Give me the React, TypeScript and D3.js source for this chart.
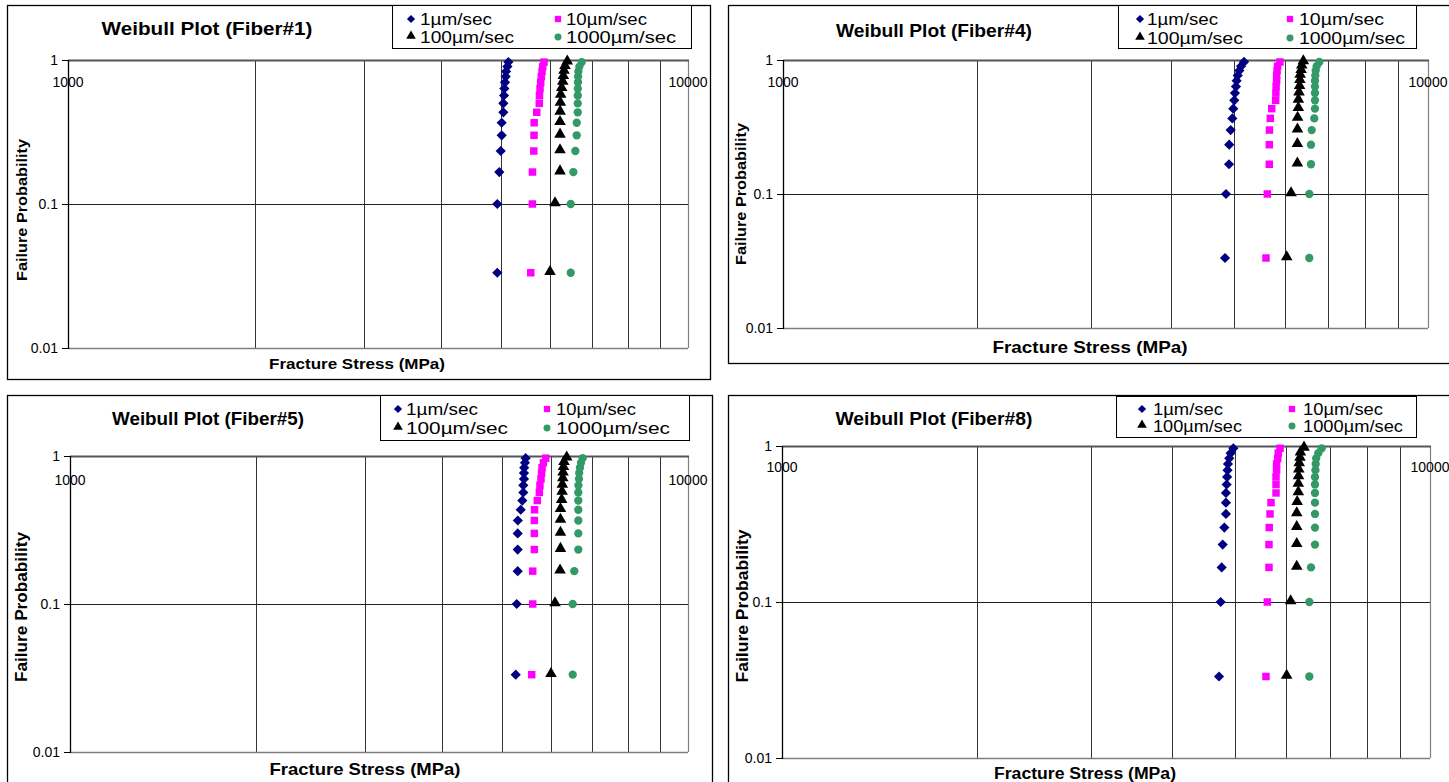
import React from 'react';
import * as d3 from 'd3';

// failure probability (median rank) shared by every series
const failureProb = [0.0333, 0.1, 0.1667, 0.2333, 0.3, 0.3667, 0.4333, 0.5, 0.5667, 0.6333, 0.7, 0.7667, 0.8333, 0.9, 0.9667];

const rateLabels = ['1µm/sec', '10µm/sec', '100µm/sec', '1000µm/sec'];

// fracture stress (MPa), Fiber#1
const fiber1Rate1 = [4925, 4925, 4962, 4988, 5006, 5006, 5037, 5037, 5050, 5056, 5068, 5081, 5088, 5113, 5132];
const fiber1Rate10 = [5577, 5610, 5612, 5640, 5645, 5648, 5702, 5757, 5760, 5772, 5787, 5800, 5815, 5830, 5858];
const fiber1Rate100 = [5990, 6103, 6217, 6217, 6217, 6217, 6220, 6225, 6233, 6256, 6280, 6294, 6310, 6333, 6387];
const fiber1Rate1000 = [6469, 6469, 6532, 6581, 6615, 6615, 6640, 6640, 6640, 6642, 6645, 6648, 6655, 6680, 6739];

// Fiber#4
const fiber4Rate1 = [4845, 4862, 4915, 4918, 4944, 4973, 4990, 5008, 5020, 5038, 5050, 5070, 5100, 5130, 5185];
const fiber4Rate10 = [5608, 5635, 5675, 5675, 5678, 5695, 5724, 5806, 5810, 5815, 5825, 5825, 5835, 5845, 5895];
const fiber4Rate100 = [6039, 6133, 6273, 6273, 6275, 6278, 6294, 6296, 6310, 6323, 6330, 6336, 6358, 6372, 6408];
const fiber4Rate1000 = [6546, 6546, 6585, 6585, 6602, 6663, 6680, 6680, 6680, 6680, 6680, 6687, 6697, 6720, 6784];

// Fiber#5
const fiber5Rate1 = [5263, 5283, 5302, 5302, 5302, 5305, 5362, 5394, 5414, 5414, 5427, 5427, 5432, 5447, 5461];
const fiber5Rate10 = [5586, 5607, 5607, 5641, 5641, 5641, 5645, 5704, 5747, 5760, 5783, 5795, 5806, 5835, 5886];
const fiber5Rate100 = [6002, 6093, 6208, 6218, 6218, 6218, 6218, 6246, 6256, 6262, 6272, 6278, 6288, 6300, 6364];
const fiber5Rate1000 = [6508, 6508, 6546, 6645, 6645, 6645, 6645, 6645, 6645, 6648, 6662, 6667, 6686, 6712, 6754];

// Fiber#8
const fiber8Rate1 = [4725, 4753, 4770, 4787, 4815, 4843, 4843, 4843, 4855, 4863, 4870, 4878, 4900, 4924, 4972];
const fiber8Rate10 = [5583, 5610, 5643, 5643, 5648, 5664, 5684, 5786, 5786, 5786, 5798, 5798, 5821, 5832, 5870];
const fiber8Rate100 = [6009, 6095, 6228, 6228, 6228, 6228, 6238, 6263, 6263, 6268, 6273, 6283, 6300, 6310, 6391];
const fiber8Rate1000 = [6513, 6513, 6552, 6645, 6645, 6645, 6645, 6645, 6645, 6645, 6656, 6662, 6673, 6723, 6804];

const xTickValues = [1000, 10000];
const xGridValues = [2000, 3000, 4000, 5000, 6000, 7000, 8000, 9000];
const yTickValues = [1, 0.1, 0.01];
const yTickLabels = ['1', '0.1', '0.01'];

const FONT = '"Liberation Sans", Arial, sans-serif';

const markerColors = ['#000080', '#FF00FF', '#000000', '#339966'];
const markerShapes = [d3.symbolSquare, d3.symbolSquare, d3.symbolTriangle, d3.symbolCircle];
const markerSizes = [52, 56, 58, 54];
const legendSizes = [34, 40, 40, 38];

// layout of the four pasted charts
const panels = [
  {
    title: 'Weibull Plot (Fiber#1)',
    series: [fiber1Rate1, fiber1Rate10, fiber1Rate100, fiber1Rate1000],
    frame: { x: 7, y: 5, w: 703, h: 374 },
    plot: { x: 68, y: 60, w: 620, h: 288 },
    legend: { x: 392, y: 5, w: 299, h: 43, m1: 19, t1: 28, m2: 166, t2: 174, r1: 19, r2: 37, fs: 16, widths: [72, 81, 94, 110] },
    title_: { cx: 207, by: 35, fs: 19, w: 211 },
    xTitle: { cx: 357, by: 369, fs: 15, w: 176 },
    yTitle: { cx: 22, cy: 210, fs: 15, w: 142 },
    xLabDy: 27,
    fs: 14
  },
  {
    title: 'Weibull Plot (Fiber#4)',
    series: [fiber4Rate1, fiber4Rate10, fiber4Rate100, fiber4Rate1000],
    frame: { x: 728, y: 5, w: 740, h: 358 },
    plot: { x: 783, y: 60, w: 645, h: 268 },
    legend: { x: 1118, y: 5, w: 298, h: 43, m1: 22, t1: 29, m2: 172, t2: 181, r1: 19, r2: 38, fs: 16, widths: [71, 85, 96, 106] },
    title_: { cx: 934, by: 37, fs: 19, w: 196 },
    xTitle: { cx: 1090, by: 353, fs: 17, w: 195 },
    yTitle: { cx: 741, cy: 194, fs: 15, w: 142 },
    xLabDy: 27,
    fs: 14
  },
  {
    title: 'Weibull Plot (Fiber#5)',
    series: [fiber5Rate1, fiber5Rate10, fiber5Rate100, fiber5Rate1000],
    frame: { x: 7, y: 395, w: 705, h: 400 },
    plot: { x: 70, y: 456, w: 618, h: 296 },
    legend: { x: 380, y: 395, w: 309, h: 45, m1: 18, t1: 26, m2: 167, t2: 176, r1: 409, r2: 428, fs: 16, widths: [72, 80, 102, 114] },
    title_: { cx: 208, by: 425, fs: 19, w: 192 },
    xTitle: { cx: 365, by: 775, fs: 17, w: 191 },
    yTitle: { cx: 22, cy: 607, fs: 16, w: 150 },
    xLabDy: 29,
    fs: 14
  },
  {
    title: 'Weibull Plot (Fiber#8)',
    series: [fiber8Rate1, fiber8Rate10, fiber8Rate100, fiber8Rate1000],
    frame: { x: 728, y: 395, w: 740, h: 400 },
    plot: { x: 782, y: 446, w: 648, h: 312 },
    legend: { x: 1116, y: 396, w: 300, h: 41, m1: 26, t1: 37, m2: 176, t2: 187, r1: 409, r2: 426, fs: 16, widths: [70, 80, 89, 100] },
    title_: { cx: 934, by: 425, fs: 19, w: 197 },
    xTitle: { cx: 1085, by: 779, fs: 16, w: 182 },
    yTitle: { cx: 743, cy: 606, fs: 16, w: 153 },
    xLabDy: 26,
    fs: 14
  }
];

function Marker({ i, x, y, size }: { i: number; x: number; y: number; size: number }) {
  const path = d3.symbol().type(markerShapes[i]).size(size)() as string;
  const rot = i === 0 ? ' rotate(45)' : '';
  const dy = i === 2 ? -1 : 0;
  return <path d={path} transform={`translate(${x},${y + dy})${rot}`} fill={markerColors[i]} />;
}

function Panel({ p }: { p: typeof panels[number] }) {
  const x = d3.scaleLog().domain([1000, 10000]).range([p.plot.x, p.plot.x + p.plot.w]);
  const y = d3.scaleLog().domain([0.01, 1]).range([p.plot.y + p.plot.h, p.plot.y]);
  const L = p.legend;
  const right = p.plot.x + p.plot.w;
  const bottom = p.plot.y + p.plot.h;
  return (
    <g fontFamily={FONT}>
      <rect x={p.frame.x + 0.5} y={p.frame.y + 0.5} width={p.frame.w} height={p.frame.h} fill="#fff" stroke="#000" strokeWidth={1.3} />

      {/* vertical gridlines */}
      {xGridValues.map(v => (
        <line key={v} x1={Math.round(x(v)) + 0.5} x2={Math.round(x(v)) + 0.5} y1={p.plot.y} y2={bottom} stroke="#333" strokeWidth={1} />
      ))}
      {/* horizontal gridline at 0.1 */}
      <line x1={p.plot.x} x2={right} y1={Math.round(y(0.1)) + 0.5} y2={Math.round(y(0.1)) + 0.5} stroke="#222" strokeWidth={1} />
      {/* plot borders */}
      <line x1={right + 0.5} x2={right + 0.5} y1={p.plot.y} y2={bottom} stroke="#808080" strokeWidth={1.2} />
      <line x1={p.plot.x} x2={right} y1={bottom + 0.5} y2={bottom + 0.5} stroke="#808080" strokeWidth={1.5} />
      <line x1={p.plot.x} x2={right + 1} y1={p.plot.y + 0.5} y2={p.plot.y + 0.5} stroke="#555" strokeWidth={2} />
      <line x1={p.plot.x + 0.5} x2={p.plot.x + 0.5} y1={p.plot.y} y2={bottom + 1} stroke="#000" strokeWidth={1.3} />

      {/* y ticks */}
      {yTickValues.map((v, i) => (
        <g key={v}>
          <line x1={p.plot.x - 6} x2={p.plot.x} y1={Math.round(y(v)) + 0.5} y2={Math.round(y(v)) + 0.5} stroke="#000" />
          <text x={p.plot.x - 10} y={y(v) + 5} textAnchor="end" fontSize={p.fs}>{yTickLabels[i]}</text>
        </g>
      ))}
      {/* x tick labels sit just under the top axis line */}
      {xTickValues.map(v => (
        <text key={v} x={x(v)} y={p.plot.y + p.xLabDy} textAnchor="middle" fontSize={p.fs}>{String(v)}</text>
      ))}

      {/* data */}
      {p.series.map((s, si) => (
        <g key={si}>
          {s.map((v, k) => (
            <Marker key={k} i={si} x={x(v)} y={y(failureProb[k])} size={markerSizes[si]} />
          ))}
        </g>
      ))}

      {/* titles */}
      <text x={p.title_.cx} y={p.title_.by} textAnchor="middle" fontWeight="bold" fontSize={p.title_.fs}
        textLength={p.title_.w} lengthAdjust="spacingAndGlyphs">{p.title}</text>
      <text x={p.xTitle.cx} y={p.xTitle.by} textAnchor="middle" fontWeight="bold" fontSize={p.xTitle.fs}
        textLength={p.xTitle.w} lengthAdjust="spacingAndGlyphs">Fracture Stress (MPa)</text>
      <text transform={`translate(${p.yTitle.cx + 5},${p.yTitle.cy}) rotate(-90)`} textAnchor="middle" fontWeight="bold"
        fontSize={p.yTitle.fs} textLength={p.yTitle.w} lengthAdjust="spacingAndGlyphs">Failure Probability</text>

      {/* legend */}
      <rect x={L.x + 0.5} y={L.y + 0.5} width={L.w} height={L.h} fill="#fff" stroke="#000" strokeWidth={1} />
      {rateLabels.map((lab, i) => {
        const col = i % 2;
        const row = Math.floor(i / 2);
        const ry = row === 0 ? L.r1 : L.r2;
        const mx = L.x + (col === 0 ? L.m1 : L.m2);
        const tx = L.x + (col === 0 ? L.t1 : L.t2);
        return (
          <g key={lab}>
            <Marker i={i} x={mx} y={ry} size={legendSizes[i]} />
            <text x={tx} y={ry + 6} fontSize={L.fs} textLength={L.widths[i]} lengthAdjust="spacingAndGlyphs">{lab}</text>
          </g>
        );
      })}
    </g>
  );
}

export default function App() {
  return (
    <svg width={1449} height={782} style={{ position: 'absolute', left: 0, top: 0, background: '#fff' }}>
      <rect width={1449} height={782} fill="#fff" />
      {panels.map(p => <Panel key={p.title} p={p} />)}
    </svg>
  );
}
